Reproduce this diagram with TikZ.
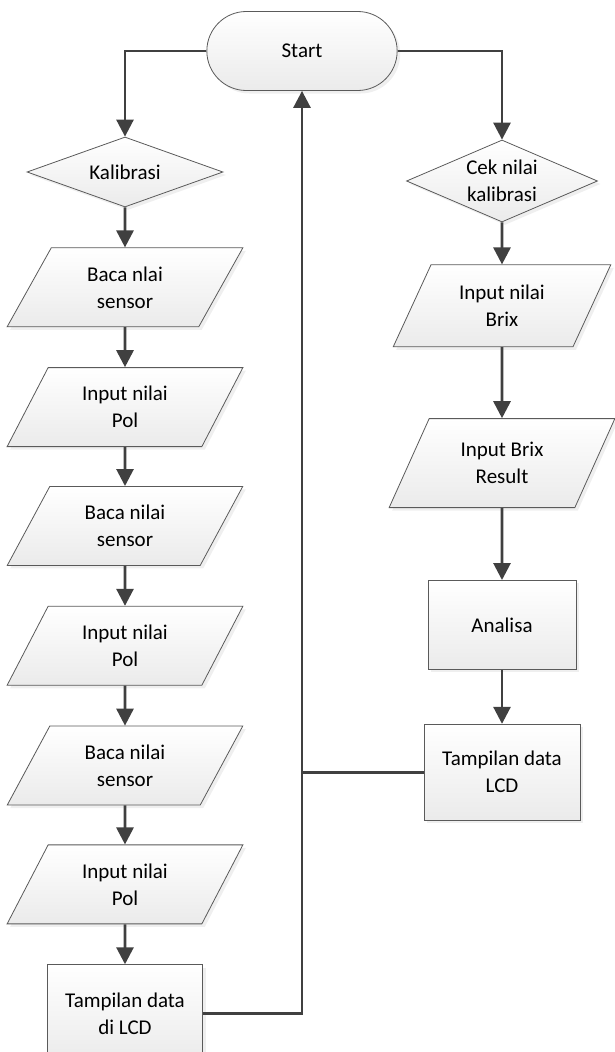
\documentclass[tikz,border=0pt]{standalone}
\usepackage{fontspec}
\setmainfont{Carlito}
\usetikzlibrary{arrows.meta,positioning,shapes.geometric,shapes.misc,shadows}
\definecolor{linegray}{HTML}{404040}
\definecolor{edgegray}{HTML}{5A5A5A}

\begin{document}
\begin{tikzpicture}[
		x=1pt, y=-1pt,
		base/.style={draw=edgegray, line width=0.8pt, top color=white, bottom color=black!8, align=center,
			font=\fontsize{21}{27}\selectfont, drop shadow={shadow xshift=3pt, shadow yshift=-3pt, fill=black!12}},
		term/.style={base, rounded rectangle, minimum width=197pt, minimum height=79pt},
		decision/.style={base, diamond, inner sep=-8pt},
		io/.style={base, trapezium, trapezium left angle=63, trapezium right angle=117, trapezium stretches=true,
			minimum width=236pt, minimum height=79pt},
		process/.style={base, rectangle, minimum width=155pt, minimum height=96pt},
		flow/.style={draw=linegray, line width=2.8pt, -{Triangle[length=17pt,width=17pt]}},
		link/.style={draw=linegray, line width=2.8pt},
	]
		\useasboundingbox (0,0) rectangle (614,1052);

		\node (start) [term] at (302,51) {Start};

		% kalibrasi
		\node (kal) [decision, minimum width=196pt, minimum height=70pt, aspect=2.8] at (125,172) {Kalibrasi};
		\node (baca1) [io, below=40pt of kal] {Baca nlai\\sensor};
		\node (pol1) [io, below=40pt of baca1] {Input nilai\\Pol};
		\node (baca2) [io, below=39pt of pol1] {Baca nilai\\sensor};
		\node (pol2) [io, below=40pt of baca2] {Input nilai\\Pol};
		\node (baca3) [io, below=40pt of pol2] {Baca nilai\\sensor};
		\node (pol3) [io, below=39pt of baca3] {Input nilai\\Pol};
		\node (lcdkiri) [process, below=40pt of pol3, minimum height=98pt] {Tampilan data\\di LCD};

		% pengukuran
		\node (cek) [decision, minimum width=191pt, minimum height=82pt, aspect=2.33] at (502,181) {Cek nilai\\kalibrasi};
		\node (brix) [io, below=42pt of cek, minimum width=218pt, minimum height=82pt] {Input nilai\\Brix};
		\node (result) [io, below=71pt of brix, minimum width=226pt, minimum height=89pt] {Input Brix\\Result};
		\node (analisa) [process, below=72pt of result, minimum width=148pt, minimum height=89pt] {Analisa};
		\node (lcdkanan) [process, below=54pt of analisa, minimum width=156pt] {Tampilan data\\LCD};

		\draw[flow] (start.west) -| (kal.north);
		\draw[flow] (start.east) -| (cek.north);

		\foreach \a/\b in {kal/baca1, baca1/pol1, pol1/baca2, baca2/pol2, pol2/baca3, baca3/pol3, pol3/lcdkiri,
			cek/brix, brix/result, result/analisa, analisa/lcdkanan}
			\draw[flow] (\a) -- (\b);

		\draw[flow] (lcdkiri.east) -| (start.south);
		\draw[link] (lcdkanan.west) -- (lcdkanan.west -| start.south);
	\end{tikzpicture}
\end{document}
